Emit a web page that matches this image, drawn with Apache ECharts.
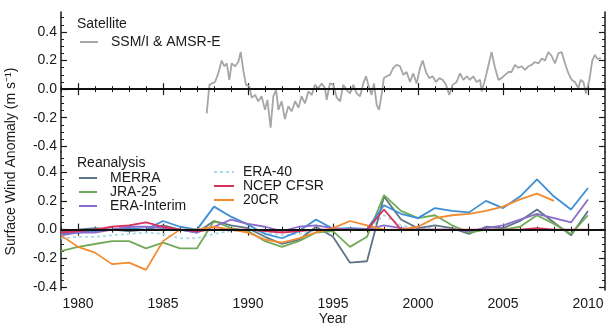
<!DOCTYPE html>
<html>
<head>
<meta charset="utf-8">
<script src="https://cdn.jsdelivr.net/npm/echarts@6/dist/echarts.min.js"></script>
<style>
  html, body { margin: 0; padding: 0; background: #fff; }
  #chart { width: 613px; height: 323px; }
</style>
</head>
<body>
<div id="chart"></div>
<script>
// annual reanalysis anomalies, 1979-2010
var years = [1979, 1980, 1981, 1982, 1983, 1984, 1985, 1986, 1987, 1988, 1989, 1990, 1991, 1992, 1993, 1994,
  1995, 1996, 1997, 1998, 1999, 2000, 2001, 2002, 2003, 2004, 2005, 2006, 2007, 2008, 2009, 2010];
var merra = [-0.02, 0.0, 0.01, 0.0, -0.01, 0.0, 0.03, 0.0, -0.02, 0.06, 0.03, 0.01, -0.05, -0.1, -0.07, 0.02,
  -0.05, -0.23, -0.22, 0.23, 0.07, 0.01, 0.03, 0.01, -0.03, 0.02, 0.01, 0.06, 0.14, 0.05, -0.04, 0.13];
var jra25 = [-0.15, -0.12, -0.1, -0.08, -0.08, -0.13, -0.09, -0.13, -0.13, 0.06, 0.01, -0.01, -0.08, -0.12, -0.08, -0.02,
  -0.01, -0.12, -0.05, 0.24, 0.13, 0.08, 0.1, 0.03, -0.02, 0.0, 0.0, 0.02, 0.1, 0.04, -0.03, 0.1];
var eraInterim = [-0.04, -0.02, -0.02, 0.0, 0.02, 0.02, 0.01, 0.0, -0.02, 0.02, 0.07, 0.04, 0.02, -0.01, 0.02, 0.03,
  0.01, 0.0, 0.0, 0.03, 0.01, 0.0, 0.0, 0.0, -0.01, 0.01, 0.03, 0.07, 0.11, 0.08, 0.05, 0.21];
var era40 = [-0.06, -0.05, -0.05, -0.04, -0.03, -0.02, -0.03, -0.06, -0.06, -0.03, -0.01, 0.0, -0.02, -0.04, -0.03, -0.01,
  0.0, 0.01, 0.0, 0.1, 0.03, 0.01, 0.02, null, null, null, null, null, null, null, null, null];
var ncepCfsr = [-0.02, -0.01, 0.0, 0.02, 0.03, 0.05, 0.02, 0.0, -0.01, 0.0, 0.0, 0.0, -0.01, -0.02, -0.01, 0.0,
  0.0, 0.0, 0.0, 0.14, 0.0, 0.0, 0.0, 0.0, 0.0, 0.0, 0.0, 0.0, 0.01, 0.0, 0.0, 0.0];
var cr20 = [-0.04, -0.12, -0.16, -0.24, -0.23, -0.28, -0.08, 0.0, 0.0, 0.02, 0.0, -0.02, -0.07, -0.09, -0.06, -0.02,
  0.01, 0.06, 0.03, 0.0, 0.0, 0.02, 0.08, 0.1, 0.11, 0.13, 0.16, 0.21, 0.25, 0.2, null, null];
// blue curve drawn in the lower panel without a legend entry
var blueLine = [-0.03, -0.02, -0.01, 0.0, 0.01, 0.0, 0.06, 0.02, 0.0, 0.16, 0.09, 0.035, -0.03, -0.06, -0.01, 0.07,
  0.005, 0.01, 0.005, 0.17, 0.11, 0.08, 0.15, 0.13, 0.12, 0.2, 0.15, 0.23, 0.35, 0.23, 0.14, 0.29];

// satellite (SSM/I & AMSR-E)
var satYears = [1987.57, 1987.73, 1987.87, 1988.06, 1988.25, 1988.45, 1988.61, 1988.75, 1988.90, 1989.04,
  1989.24, 1989.43, 1989.57, 1989.72, 1989.88, 1990.08, 1990.22, 1990.42, 1990.60, 1990.80,
  1991.00, 1991.14, 1991.33, 1991.49, 1991.65, 1991.79, 1991.98, 1992.17, 1992.37, 1992.57,
  1992.77, 1992.97, 1993.15, 1993.35, 1993.55, 1993.75, 1993.94, 1994.14, 1994.33, 1994.53,
  1994.63, 1994.82, 1995.02, 1995.22, 1995.42, 1995.60, 1995.80, 1996.00, 1996.20, 1996.39,
  1996.59, 1996.78, 1996.94, 1997.08, 1997.27, 1997.41, 1997.57, 1997.71, 1997.87, 1997.99,
  1998.15, 1998.35, 1998.55, 1998.75, 1998.94, 1999.14, 1999.33, 1999.53, 1999.72, 1999.92,
  2000.12, 2000.28, 2000.47, 2000.66, 2000.86, 2001.06, 2001.26, 2001.45, 2001.65, 2001.84,
  2002.04, 2002.27,
  2002.47, 2002.67, 2002.87, 2003.05, 2003.25, 2003.45, 2003.65, 2003.75, 2003.94, 2004.13,
  2004.33, 2004.53, 2004.73, 2004.92, 2005.12, 2005.32, 2005.50, 2005.70, 2005.90, 2006.10,
  2006.30, 2006.49, 2006.68, 2006.88, 2007.08, 2007.28, 2007.47, 2007.67, 2007.87, 2008.06,
  2008.25, 2008.45, 2008.65, 2008.85, 2009.04, 2009.23, 2009.43, 2009.57, 2009.73, 2009.88,
  2010.08, 2010.25, 2010.41, 2010.56, 2010.75];
var satValues = [-0.17, 0.03, 0.04, 0.05, 0.11, 0.20, 0.16, 0.18, 0.065, 0.18,
  0.16, 0.19, 0.26, 0.135, 0.03, 0.02, -0.06, -0.04, -0.085, -0.05,
  -0.145, -0.075, -0.27, -0.05, -0.005, -0.145, -0.085, -0.21, -0.12, -0.155,
  -0.085, -0.13, -0.05, -0.10, -0.016, -0.04, 0.03, 0.007, 0.04, 0.007,
  -0.075, 0.04, 0.03, -0.06, -0.085, 0.03, -0.005, -0.03, 0.03, -0.03,
  -0.05, 0.04, 0.09, 0.03, -0.04, 0.04, -0.11, -0.145, -0.03, 0.077,
  0.09, 0.10, 0.15, 0.17, 0.16, 0.10, 0.12, 0.05, 0.11, 0.04,
  0.15, 0.20, 0.12, 0.077, 0.09, 0.05, 0.077, 0.065, 0.03, -0.04,
  0.03, 0.05,
  0.11, 0.065, 0.09, 0.065, 0.09, 0.05, 0.065, -0.016, 0.065, 0.16,
  0.26, 0.15, 0.065, 0.077, 0.10, 0.12, 0.12, 0.17, 0.15, 0.16,
  0.135, 0.16, 0.17, 0.19, 0.18, 0.215, 0.20, 0.26, 0.23, 0.18,
  0.25, 0.26, 0.18, 0.11, 0.065, 0.05, 0.007, 0.065, 0.05, -0.03,
  0.065, 0.20, 0.24, 0.21, 0.22];

// tick labels
var xMajor = [1980, 1985, 1990, 1995, 2000, 2005, 2010];
var yMajor = [-0.4, -0.2, 0.0, 0.2, 0.4];
var yMinor = [-0.4, -0.35, -0.3, -0.25, -0.2, -0.15, -0.1, -0.05, 0.0, 0.05, 0.1, 0.15, 0.2, 0.25, 0.3, 0.35, 0.4, 0.45, 0.5];

var FONT = "'Liberation Sans', Arial, Helvetica, sans-serif";
var INK = '#1a1a1a';

var chart = echarts.init(document.getElementById('chart'), null, { renderer: 'canvas' });

function pairs(xs, vs) {
  var out = [];
  for (var i = 0; i < xs.length && i < vs.length; i++) {
    if (vs[i] !== null) out.push([xs[i], vs[i]]);
  }
  return out;
}

function xAxesFor(grid, withLabels) {
  var base = { type: 'value', gridIndex: grid, min: 1979, max: 2011, splitLine: { show: false } };
  var line = { show: true, lineStyle: { color: INK, width: 1.5 } };
  return [
    Object.assign({}, base, {
      position: 'bottom', axisLine: line,
      axisTick: { show: true, inside: true, length: 6, customValues: xMajor, lineStyle: { color: INK, width: 1.2 } },
      axisLabel: { show: withLabels, customValues: xMajor, formatter: function (v) { return String(v); },
        color: INK, fontSize: 14, fontFamily: FONT, margin: 7 },
      name: withLabels ? 'Year' : '', nameLocation: 'middle', nameGap: 21,
      nameTextStyle: { color: INK, fontSize: 14, fontFamily: FONT }
    }),
    Object.assign({}, base, {
      position: 'bottom', axisLine: { show: false },
      axisTick: { show: true, inside: true, length: 3, customValues: years, lineStyle: { color: INK, width: 1 } },
      axisLabel: { show: false }
    }),
    Object.assign({}, base, {
      position: 'top', axisLine: line,
      axisTick: { show: true, inside: true, length: 6, customValues: xMajor, lineStyle: { color: INK, width: 1.2 } },
      axisLabel: { show: false }
    }),
    Object.assign({}, base, {
      position: 'top', axisLine: { show: false },
      axisTick: { show: true, inside: true, length: 3, customValues: years, lineStyle: { color: INK, width: 1 } },
      axisLabel: { show: false }
    })
  ];
}

function yAxesFor(grid, lo, hi) {
  var base = { type: 'value', gridIndex: grid, min: lo, max: hi, splitLine: { show: false } };
  var line = { show: true, lineStyle: { color: INK, width: 1.5 } };
  return [
    Object.assign({}, base, {
      position: 'left', axisLine: line,
      axisTick: { show: true, inside: true, length: 6, customValues: yMajor, lineStyle: { color: INK, width: 1.2 } },
      axisLabel: { show: true, customValues: yMajor, formatter: function (v) { return v.toFixed(1); },
        color: INK, fontSize: 14, fontFamily: FONT, margin: 4 }
    }),
    Object.assign({}, base, {
      position: 'left', axisLine: { show: false },
      axisTick: { show: true, inside: true, length: 3, customValues: yMinor, lineStyle: { color: INK, width: 1 } },
      axisLabel: { show: false }
    }),
    Object.assign({}, base, {
      position: 'right', axisLine: line,
      axisTick: { show: true, inside: true, length: 6, customValues: yMajor, lineStyle: { color: INK, width: 1.2 } },
      axisLabel: { show: false }
    }),
    Object.assign({}, base, {
      position: 'right', axisLine: { show: false },
      axisTick: { show: true, inside: true, length: 3, customValues: yMinor, lineStyle: { color: INK, width: 1 } },
      axisLabel: { show: false }
    })
  ];
}

function reLine(name, data, color, dash) {
  return {
    name: name, type: 'line', xAxisIndex: 4, yAxisIndex: 4,
    data: pairs(years, data), symbol: 'none', showSymbol: false,
    lineStyle: { color: color, width: 1.8, type: dash ? [3, 3] : 'solid' },
    itemStyle: { color: color }
  };
}

var zeroLine = {
  silent: true, symbol: 'none', label: { show: false },
  lineStyle: { color: '#111', width: 2, type: 'solid' },
  data: [{ yAxis: 0 }]
};

var legendText = { color: INK, fontSize: 14, fontFamily: FONT, lineHeight: 14 };
// line-only legend icons: hide the symbol the line series adds
var noSymbol = { opacity: 0, borderWidth: 0, color: 'rgba(0,0,0,0)' };

var option = {
  animation: false,
  backgroundColor: '#fff',
  textStyle: { fontFamily: FONT },
  grid: [
    { left: 61, right: 8, top: 12, height: 140, containLabel: false, outerBoundsMode: 'none' },
    { left: 61, right: 8, top: 152, height: 138, containLabel: false, outerBoundsMode: 'none' }
  ],
  title: [
    { text: 'Satellite', left: 77, top: 17, padding: 0, textStyle: { color: INK, fontSize: 14, fontWeight: 'normal', fontFamily: FONT } },
    { text: 'Reanalysis', left: 77, top: 156, padding: 0, textStyle: { color: INK, fontSize: 14, fontWeight: 'normal', fontFamily: FONT } }
  ],
  legend: [
    { data: ['SSM/I & AMSR-E'], left: 79, top: 35, padding: 0, orient: 'vertical', itemWidth: 18, itemHeight: 14,
      itemStyle: noSymbol, textStyle: Object.assign({ padding: [0, 0, 0, 8] }, legendText) },
    { data: ['MERRA', 'JRA-25', 'ERA-Interim'], left: 78, top: 171, padding: 0, orient: 'vertical',
      itemWidth: 18, itemHeight: 14, itemGap: 0, itemStyle: noSymbol,
      textStyle: Object.assign({ padding: [0, 0, 0, 8] }, legendText) },
    { data: ['ERA-40', 'NCEP CFSR', '20CR'], left: 213, top: 165, padding: 0, orient: 'vertical',
      itemWidth: 20, itemHeight: 14, itemGap: 0, itemStyle: noSymbol,
      textStyle: Object.assign({ padding: [0, 0, 0, 4] }, legendText) }
  ],
  graphic: [{
    type: 'text', left: 4, top: 'middle', rotation: Math.PI / 2,
    style: { text: 'Surface Wind Anomaly (m s\u207B\u00B9)', fill: INK, fontSize: 14, fontFamily: FONT }
  }],
  xAxis: xAxesFor(0, false).concat(xAxesFor(1, true)),
  yAxis: yAxesFor(0, -0.44, 0.54).concat(yAxesFor(1, -0.42, 0.54)),
  series: [
    {
      name: 'SSM/I & AMSR-E', type: 'line', xAxisIndex: 0, yAxisIndex: 0,
      data: pairs(satYears, satValues), symbol: 'none', showSymbol: false,
      lineStyle: { color: '#a6a6a6', width: 1.8 }, itemStyle: { color: '#a6a6a6' },
      markLine: zeroLine
    },
    reLine('ERA-40', era40, '#a9dbe6', true),
    reLine('MERRA', merra, '#5d7587', false),
    reLine('JRA-25', jra25, '#72ab58', false),
    reLine('blue', blueLine, '#3c8fd6', false),
    reLine('ERA-Interim', eraInterim, '#8a6ccc', false),
    reLine('20CR', cr20, '#f28a2e', false),
    reLine('NCEP CFSR', ncepCfsr, '#d9305c', false)
  ]
};
option.series[1].markLine = zeroLine;

chart.setOption(option);
</script>
</body>
</html>
